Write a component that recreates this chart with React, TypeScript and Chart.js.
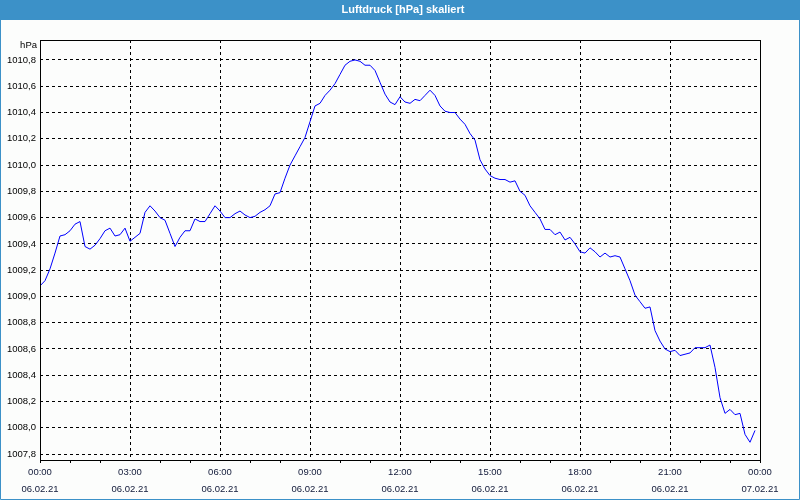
import React, { useEffect, useRef } from "react";
import { Chart, registerables } from "chart.js";

Chart.register(...registerables);

const chartTitle = "Luftdruck [hPa] skaliert";
const unitLabel = "hPa";
const sampleMinutes = 10;

// Luftdruck in hPa, one value every 10 minutes from 06.02.21 00:00 to 23:50
const pressure: number[] = [
  1009.08, 1009.12, 1009.21, 1009.33, 1009.46, 1009.47, 1009.5, 1009.55, 1009.57, 1009.38,
  1009.36, 1009.39, 1009.44, 1009.5, 1009.52, 1009.46, 1009.47, 1009.52, 1009.42, 1009.45,
  1009.48, 1009.64, 1009.69, 1009.65, 1009.6, 1009.58, 1009.48, 1009.38, 1009.45, 1009.5,
  1009.5, 1009.59, 1009.57, 1009.57, 1009.63, 1009.69, 1009.65, 1009.6, 1009.6, 1009.63,
  1009.65, 1009.62, 1009.6, 1009.61, 1009.64, 1009.66, 1009.69, 1009.78, 1009.79, 1009.9,
  1010.0, 1010.07, 1010.14, 1010.21, 1010.33, 1010.45, 1010.47, 1010.53, 1010.57, 1010.62,
  1010.69, 1010.76, 1010.79, 1010.8, 1010.79, 1010.76, 1010.76, 1010.72, 1010.63, 1010.54,
  1010.48, 1010.46, 1010.52, 1010.48, 1010.47, 1010.5, 1010.49, 1010.53, 1010.57, 1010.53,
  1010.45, 1010.41, 1010.4, 1010.4, 1010.35, 1010.31, 1010.24, 1010.19, 1010.04, 1009.97,
  1009.92, 1009.9, 1009.89, 1009.89, 1009.87, 1009.88, 1009.8, 1009.77, 1009.69, 1009.64,
  1009.59, 1009.51, 1009.51, 1009.47, 1009.49, 1009.43, 1009.45, 1009.4, 1009.34, 1009.33,
  1009.37, 1009.34, 1009.3, 1009.33, 1009.3, 1009.31, 1009.3, 1009.21, 1009.12, 1009.01,
  1008.96, 1008.91, 1008.92, 1008.74, 1008.66, 1008.6, 1008.58, 1008.59, 1008.55, 1008.56,
  1008.57, 1008.61, 1008.61, 1008.61, 1008.63, 1008.46, 1008.23, 1008.11, 1008.14, 1008.1,
  1008.11, 1007.95, 1007.89, 1007.98,
];

const yTicks: number[] = [
  1007.8, 1008.0, 1008.2, 1008.4, 1008.6, 1008.8, 1009.0, 1009.2, 1009.4, 1009.6,
  1009.8, 1010.0, 1010.2, 1010.4, 1010.6, 1010.8,
];
const yMin = 1007.755;
const yMax = 1010.952;

const xTickHours: number[] = [
  0, 1, 2, 3, 4, 5, 6, 7, 8, 9, 10, 11, 12, 13, 14, 15, 16, 17, 18, 19, 20, 21, 22, 23, 24,
];
const xLabelTimes: string[] = [
  "00:00", "03:00", "06:00", "09:00", "12:00", "15:00", "18:00", "21:00", "00:00",
];
const xLabelDates: string[] = [
  "06.02.21", "06.02.21", "06.02.21", "06.02.21", "06.02.21", "06.02.21", "06.02.21", "06.02.21", "07.02.21",
];

const FONT = "'Liberation Sans', Arial, sans-serif";
const BLUE = "#3c91c8";

const framePlugin = {
  id: "framePlugin",
  beforeDraw(chart: any) {
    const { ctx, width, height } = chart;
    ctx.save();
    ctx.fillStyle = "#fcfdfc";
    ctx.fillRect(0, 0, width, height);
    ctx.fillStyle = BLUE;
    ctx.fillRect(0, 0, width, 20);
    ctx.fillStyle = "#ffffff";
    ctx.font = `bold 11px ${FONT}`;
    ctx.textAlign = "center";
    ctx.textBaseline = "middle";
    ctx.fillText(chartTitle, width / 2 + 3, 10);
    ctx.restore();
  },
  afterDraw(chart: any) {
    const { ctx, width, height, chartArea } = chart;
    ctx.save();
    ctx.strokeStyle = "#000000";
    ctx.lineWidth = 1;
    ctx.strokeRect(
      chartArea.left + 0.5,
      chartArea.top + 0.5,
      chartArea.right - chartArea.left,
      chartArea.bottom - chartArea.top
    );
    ctx.fillStyle = "#000000";
    ctx.font = `9.5px ${FONT}`;
    ctx.textAlign = "right";
    ctx.textBaseline = "middle";
    ctx.fillText(unitLabel, chartArea.left - 3, chartArea.top + 5);
    ctx.strokeStyle = BLUE;
    ctx.beginPath();
    ctx.moveTo(0.5, 20);
    ctx.lineTo(0.5, height - 0.5);
    ctx.lineTo(width - 0.5, height - 0.5);
    ctx.lineTo(width - 0.5, 20);
    ctx.stroke();
    ctx.restore();
  },
};

export default function App() {
  const canvasRef = useRef<HTMLCanvasElement | null>(null);

  useEffect(() => {
    document.body.style.margin = "0";
    const canvas = canvasRef.current;
    if (!canvas) return;
    const data = pressure.map((v, i) => ({ x: (i * sampleMinutes) / 60, y: v }));
    const chart = new Chart(canvas, {
      type: "line",
      data: {
        datasets: [
          {
            data,
            borderColor: "#0000ff",
            borderWidth: 1,
            pointRadius: 0,
            tension: 0,
            fill: false,
          },
        ],
      },
      options: {
        responsive: false,
        animation: false,
        layout: { padding: { top: 40, right: 40, left: 0, bottom: 0 } },
        plugins: {
          legend: { display: false },
          title: { display: false },
          tooltip: { enabled: false },
        },
        scales: {
          x: {
            type: "linear",
            min: 0,
            max: 24,
            afterFit: (scale: any) => {
              scale.height = 40;
            },
            afterBuildTicks: (scale: any) => {
              scale.ticks = xTickHours.map((value) => ({ value }));
            },
            grid: {
              color: (ctx: any) =>
                ctx.tick && ctx.tick.value % 3 === 0 ? "#000000" : "rgba(0,0,0,0)",
              tickColor: (ctx: any) => {
                const v = ctx.tick ? ctx.tick.value : 0;
                return v % 3 !== 0 || v === 0 || v === 24 ? "#000000" : "rgba(0,0,0,0)";
              },
              lineWidth: 1,
              tickLength: 3,
              drawTicks: true,
            },
            border: { display: false, dash: [3, 3] },
            ticks: {
              autoSkip: false,
              maxRotation: 0,
              padding: 1,
              color: "#101838",
              font: { family: FONT, size: 9.5, lineHeight: "17px" },
              callback: (value: any) => {
                const v = Number(value);
                if (v % 3 !== 0) return "";
                const idx = v / 3;
                return [xLabelTimes[idx], xLabelDates[idx]];
              },
            },
          },
          y: {
            type: "linear",
            min: yMin,
            max: yMax,
            afterFit: (scale: any) => {
              scale.width = 40;
            },
            afterBuildTicks: (scale: any) => {
              scale.ticks = yTicks.map((value) => ({ value }));
            },
            grid: {
              color: "#000000",
              lineWidth: 1,
              drawTicks: false,
            },
            border: { display: false, dash: [3, 3] },
            ticks: {
              autoSkip: false,
              padding: 4,
              color: "#000000",
              font: { family: FONT, size: 9.5 },
              callback: (value: any) => Number(value).toFixed(1).replace(".", ","),
            },
          },
        },
      },
      plugins: [framePlugin],
    });
    return () => chart.destroy();
  }, []);

  return (
    <div style={{ width: 800, height: 500, position: "relative" }}>
      <canvas ref={canvasRef} width={800} height={500} style={{ display: "block" }} />
    </div>
  );
}
